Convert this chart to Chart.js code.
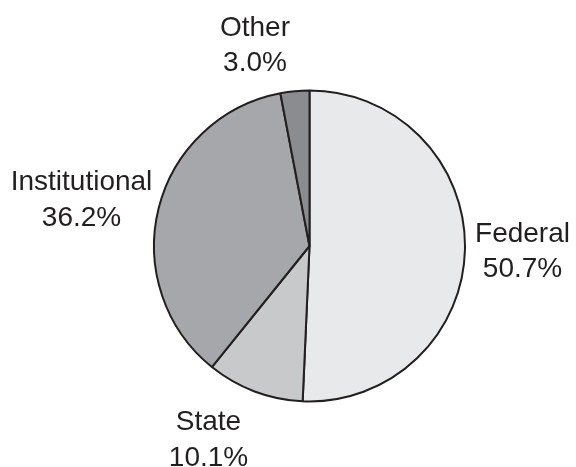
<!DOCTYPE html>
<html>
<head>
<meta charset="utf-8">
<script src="https://cdn.jsdelivr.net/npm/chart.js@4/dist/chart.umd.min.js"></script>
<style>
html,body{margin:0;padding:0;background:#fff;}
#wrap{width:576px;height:467px;position:relative;}
</style>
</head>
<body>
<div id="wrap"><canvas id="c" width="576" height="467"></canvas></div>
<script>
const categories = ["Federal", "State", "Institutional", "Other"];
const shares = [50.7, 10.1, 36.2, 3.0];
const valueLabels = ["50.7%", "10.1%", "36.2%", "3.0%"];
const sliceColors = ["#e8e9ea", "#c8c9cb", "#a5a7aa", "#8b8c8f"];

// label anchor offsets (px) from pie centre, for first-line baseline
const labelOffsets = [[213, -4.5], [-101, 184], [-228, -56], [-54.5, -210.5]];

const labelPlugin = {
  id: 'sliceLabels',
  afterDatasetsDraw(chart) {
    const ctx = chart.ctx;
    const meta = chart.getDatasetMeta(0);
    ctx.save();
    ctx.fillStyle = '#231f20';
    ctx.font = '28px "Liberation Sans", Arial, sans-serif';
    ctx.textAlign = 'center';
    ctx.textBaseline = 'alphabetic';
    meta.data.forEach((arc, i) => {
      const x = arc.x + labelOffsets[i][0];
      const y = arc.y + labelOffsets[i][1];
      ctx.fillText(categories[i], x, y);
      ctx.fillText(valueLabels[i], x, y + 35.5);
    });
    ctx.restore();
  }
};

new Chart(document.getElementById('c'), {
  type: 'pie',
  data: {
    labels: categories,
    datasets: [{
      data: shares,
      backgroundColor: sliceColors,
      borderColor: '#231f20',
      borderWidth: 2,
      hoverOffset: 0,
      offset: 0
    }]
  },
  options: {
    responsive: false,
    animation: false,
    layout: { padding: { left: 149.5, right: 106.5, top: 89.5, bottom: 64.5 } },
    plugins: { legend: { display: false }, tooltip: { enabled: false } }
  },
  plugins: [labelPlugin]
});
</script>
</body>
</html>
